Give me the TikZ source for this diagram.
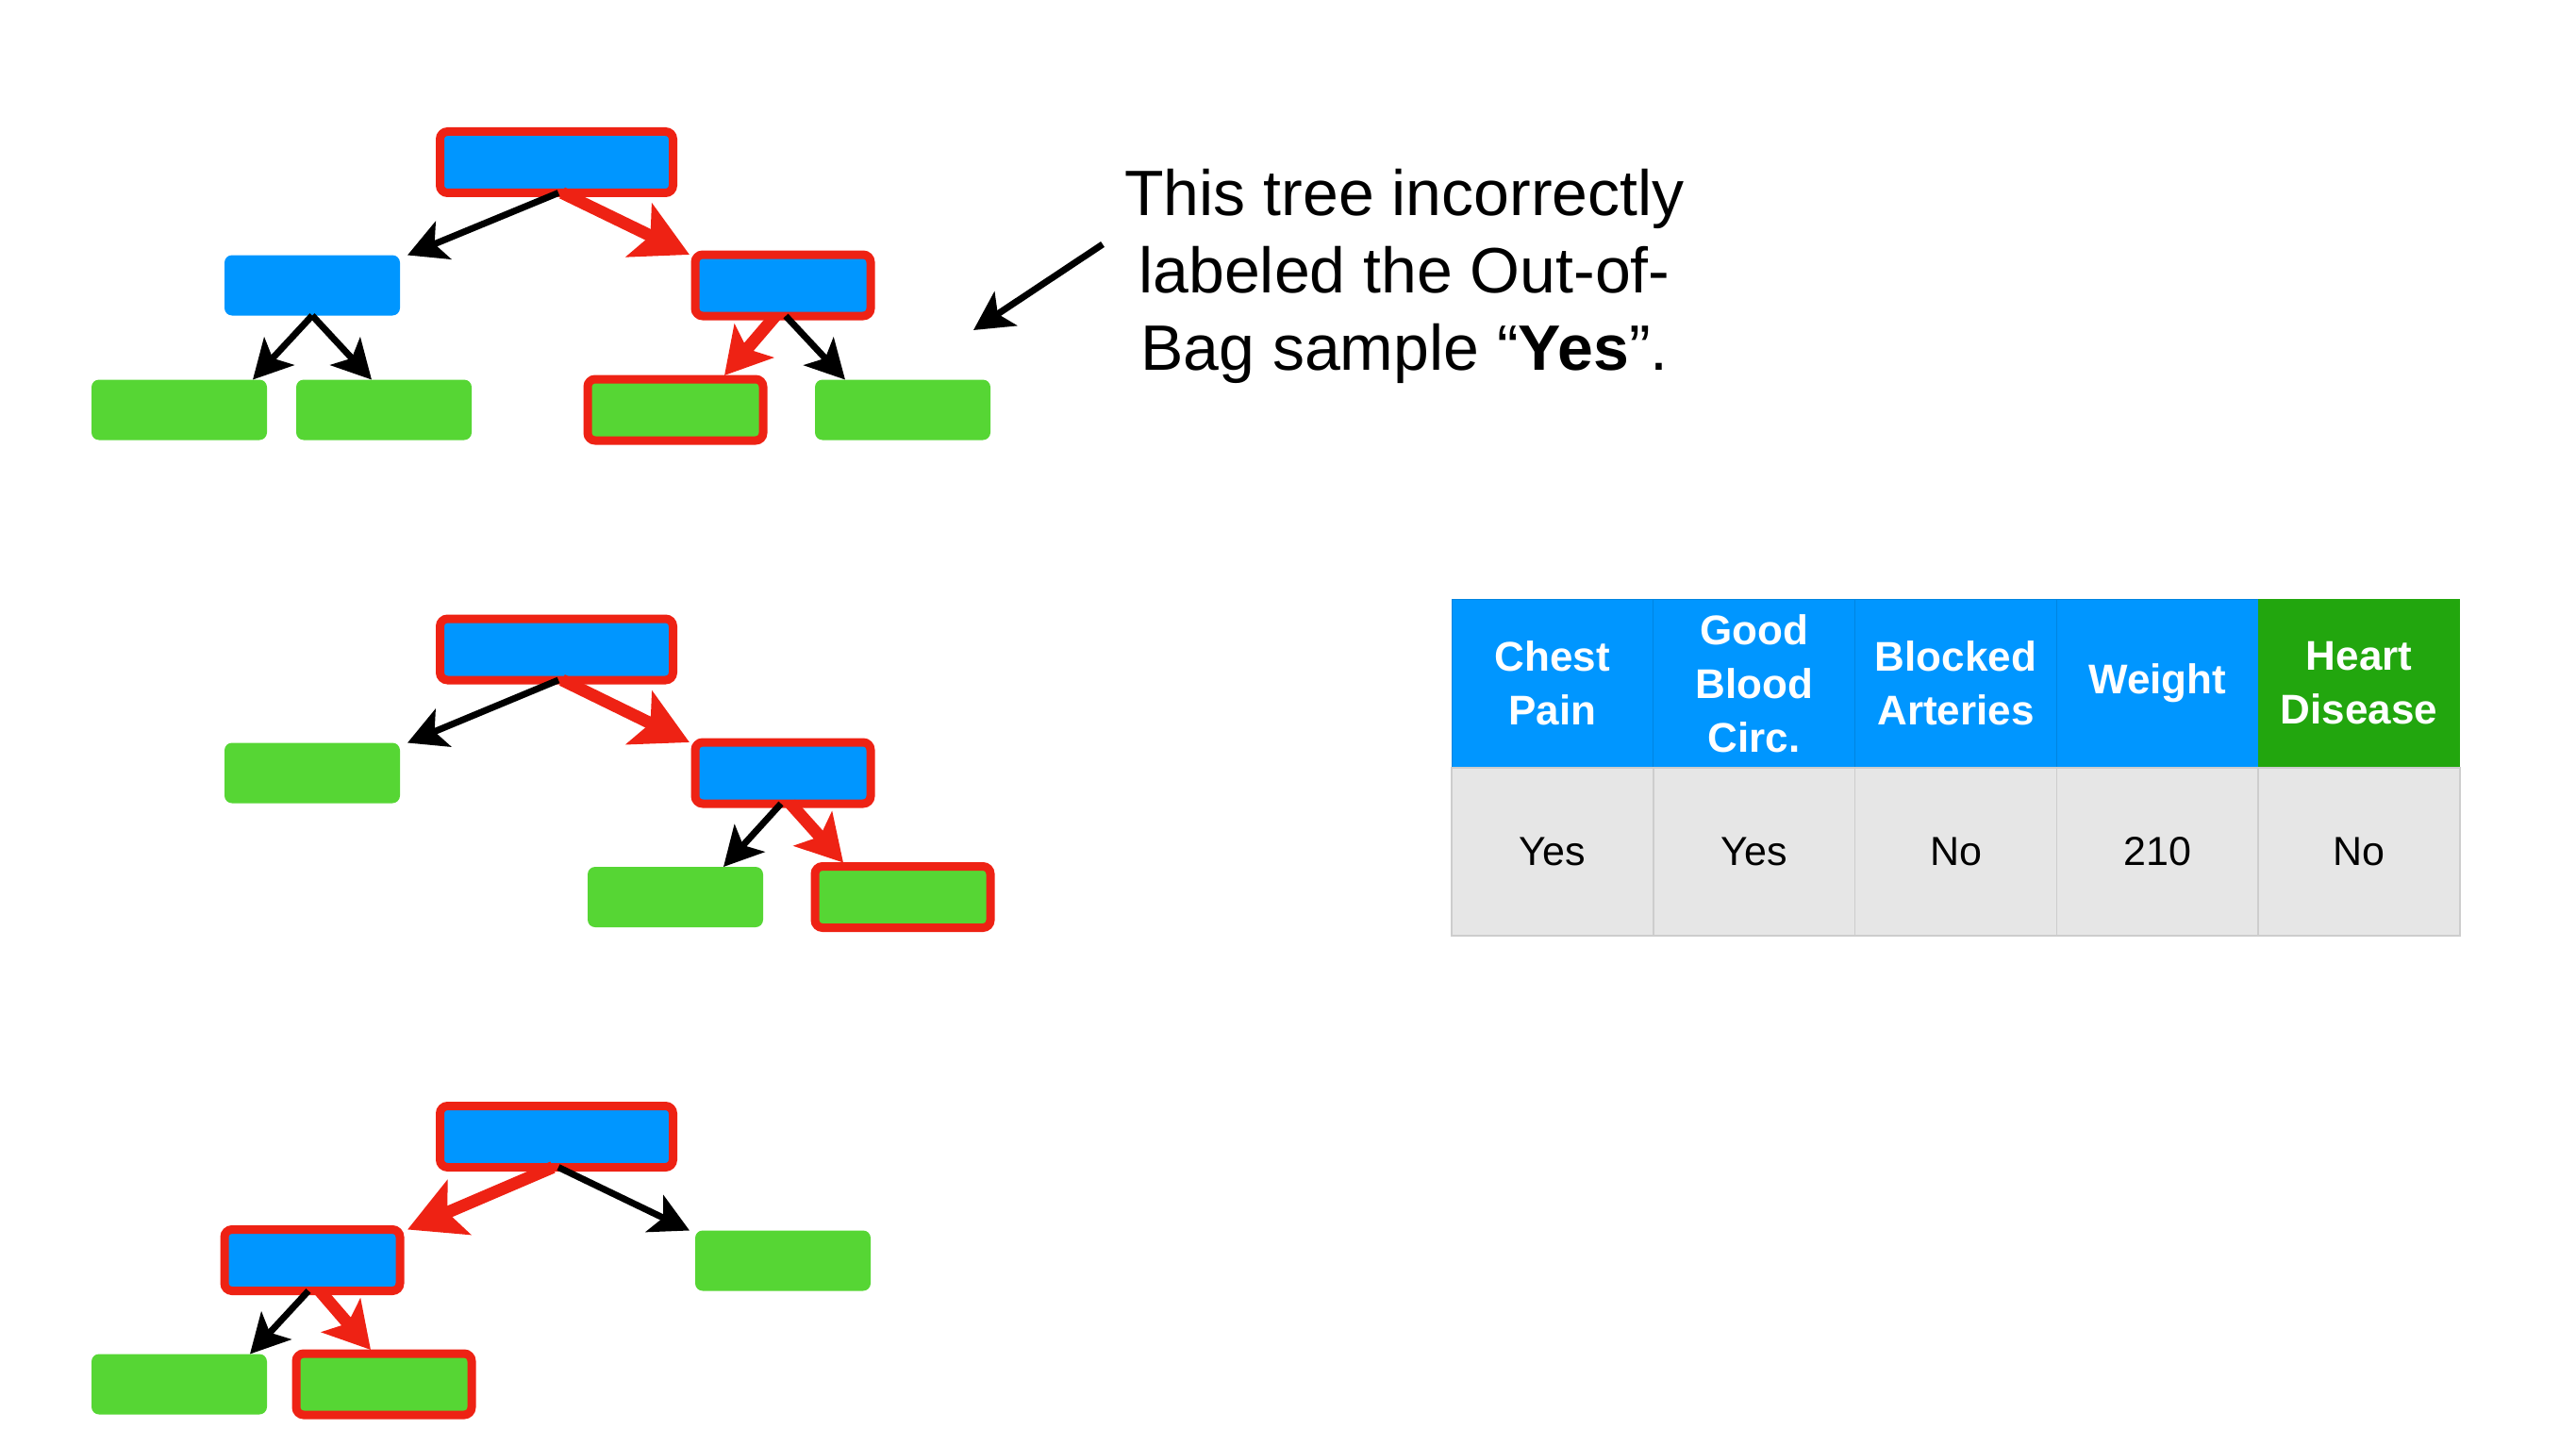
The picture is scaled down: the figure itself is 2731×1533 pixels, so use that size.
\documentclass[tikz,border=0pt]{standalone}
\usepackage{fontspec}
\setmainfont{Liberation Sans}
\usetikzlibrary{arrows.meta,calc}
\definecolor{nblue}{RGB}{0,150,255}
\definecolor{ngreen}{RGB}{86,214,52}
\definecolor{nred}{RGB}{238,34,20}
\definecolor{hgreen}{RGB}{34,166,14}
\definecolor{cellgray}{RGB}{230,230,230}
\definecolor{gridgray}{RGB}{205,205,205}
\tikzset{
  box/.style={rounded corners=8pt, minimum width=186pt, minimum height=64pt, inner sep=0pt, outer sep=0pt},
  inner/.style={box, fill=nblue},
  leaf/.style={box, fill=ngreen},
  hot/.style={draw=nred, line width=9pt, minimum width=186pt, minimum height=65pt},
  rootbox/.style={inner, hot, minimum width=247pt, minimum height=65pt},
  blk/.style={line width=7pt, draw=black, -{Stealth[length=41pt,width=43pt,inset=10pt]}},
  redarr/.style={line width=13pt, draw=nred, -{Stealth[length=59pt,width=62pt,inset=13pt]}},
  redshort/.style={line width=13pt, draw=nred, -{Stealth[length=48pt,width=54pt,inset=11pt]}},
  hcell/.style={minimum width=213.8pt, minimum height=179pt, inner sep=0pt, outer sep=0pt, text=white,
    align=center, font=\fontsize{44}{57}\selectfont\bfseries},
  bcell/.style={minimum width=213.8pt, minimum height=178pt, inner sep=0pt, outer sep=0pt, fill=cellgray,
    draw=gridgray, line width=1.5pt, font=\fontsize{43}{52}\selectfont},
}
\begin{document}
\begin{tikzpicture}[x=1pt,y=-1pt]
\useasboundingbox (0,0) rectangle (2731,1533);
% ---------- Tree 1 ----------
\node[rootbox] (t1root) at (590,172) {};
\node[inner] (t1l) at (331,302.5) {};
\node[inner,hot] (t1r) at (830,302.5) {};
\node[leaf] (t1ll) at (190,434.5) {};
\node[leaf] (t1lr) at (407,434.5) {};
\node[leaf,hot] (t1rl) at (716,434.5) {};
\node[leaf] (t1rr) at (957,434.5) {};
\draw[blk] ([xshift=2pt]t1root.south) -- ([xshift=8pt]t1l.north east);
\draw[redarr] ([xshift=6pt]t1root.south) -- ([xshift=-6pt]t1r.north west);
\coordinate (t1a) at ($(t1l.south)+(-63,0)$);
\coordinate (t1b) at ($(t1l.south)+(63,0)$);
\coordinate (t1c) at ($(t1r.south)+(-62,0)$);
\coordinate (t1d) at ($(t1r.south)+(66,0)$);
\draw[blk] (t1l.south) -- (t1a |- t1ll.north);
\draw[blk] (t1l.south) -- (t1b |- t1lr.north);
\draw[blk] ([xshift=3pt]t1r.south) -- (t1d |- t1rr.north);
\draw[redshort] ([xshift=-8pt]t1r.south) -- ([yshift=4pt]t1c |- t1rl.north);
% ---------- Tree 2 ----------
\node[rootbox] (t2root) at (590,688.5) {};
\node[leaf] (t2l) at (331,819.5) {};
\node[inner,hot] (t2r) at (830,819.5) {};
\node[leaf] (t2rl) at (716,951) {};
\node[leaf,hot] (t2rr) at (957,951) {};
\draw[blk] ([xshift=2pt]t2root.south) -- ([xshift=8pt]t2l.north east);
\draw[redarr] ([xshift=6pt]t2root.south) -- ([xshift=-6pt]t2r.north west);
\coordinate (t2c) at ($(t2r.south)+(-63,0)$);
\coordinate (t2d) at ($(t2r.south)+(64,0)$);
\draw[blk] ([xshift=-2pt]t2r.south) -- (t2c |- t2rl.north);
\draw[redshort] ([xshift=8pt]t2r.south) -- ([yshift=4pt]t2d |- t2rr.north);
% ---------- Tree 3 ----------
\node[rootbox] (t3root) at (590,1205) {};
\node[inner,hot] (t3l) at (331,1336) {};
\node[leaf] (t3r) at (830,1336.5) {};
\node[leaf] (t3ll) at (190,1467.5) {};
\node[leaf,hot] (t3lr) at (407,1467.5) {};
\draw[redarr] ([xshift=-4pt]t3root.south) -- ([xshift=8pt]t3l.north east);
\draw[blk] ([xshift=2pt]t3root.south) -- ([xshift=-6pt]t3r.north west);
\coordinate (t3a) at ($(t3l.south)+(-66,0)$);
\coordinate (t3b) at ($(t3l.south)+(62,0)$);
\draw[blk] ([xshift=-4pt]t3l.south) -- (t3a |- t3ll.north);
\draw[redshort] ([xshift=8pt]t3l.south) -- ([yshift=4pt]t3b |- t3lr.north);
% ---------- Annotation ----------
\node[inner sep=0pt, align=center, font=\fontsize{68}{82}\selectfont] (note) at (1489,293)
  {This tree incorrectly\\labeled the Out-of-\\Bag sample “\textbf{Yes}”.};
\coordinate (ps) at (1169,259);
\coordinate (pt) at (1032,350);
\draw[blk] (ps) -- (pt);
% ---------- Table ----------
\foreach \i/\t [count=\k] in {0/{Chest\\Pain},1/{Good\\Blood\\Circ.},2/{Blocked\\Arteries},3/{Weight}}{
  \node[hcell, fill=nblue, draw=nblue!88!black, line width=1pt] (h\k) at ({1539+106.9+213.8*\i},724.5) {\t};
}
\node[hcell, fill=hgreen] (h5) at ({1539+106.9+213.8*4},724.5) {Heart\\Disease};
\foreach \i/\t [count=\k] in {0/Yes,1/Yes,2/No,3/210,4/No}{
  \node[bcell] (b\k) at ({1539+106.9+213.8*\i},903) {\t};
}
\end{tikzpicture}
\end{document}
